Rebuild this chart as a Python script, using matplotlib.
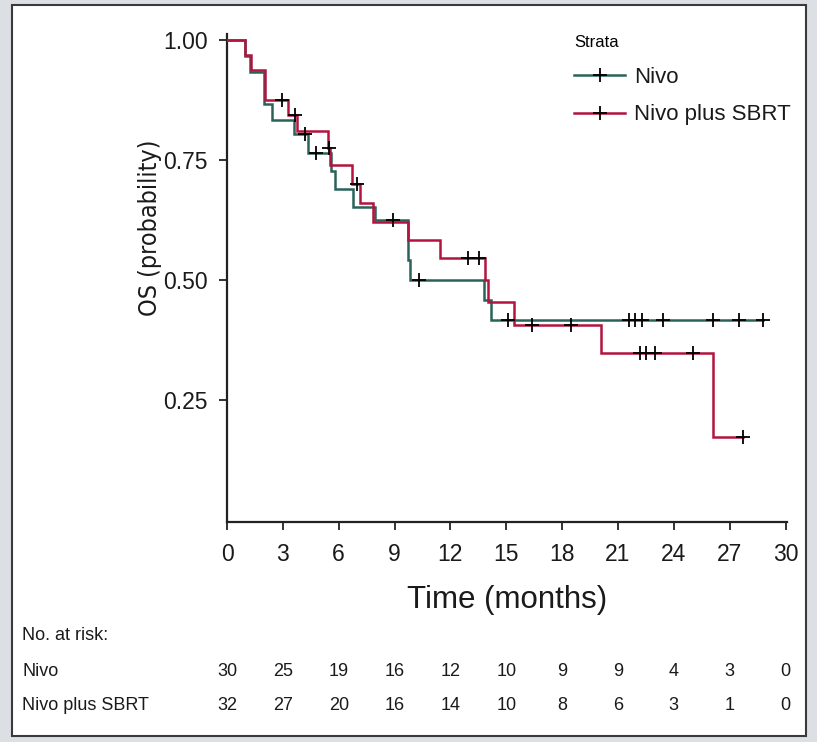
import numpy as np
import matplotlib
matplotlib.use("Agg")
import matplotlib.pyplot as plt
from matplotlib.lines import Line2D
from matplotlib.patches import Rectangle
from matplotlib.transforms import blended_transform_factory

plt.rcParams['font.family'] = ['Liberation Sans', 'DejaVu Sans']

# ---------------- data ----------------
groups = ["Nivo", "Nivo plus SBRT"]

nivo_times = [0, 0.97, 1.25, 2.0, 2.4, 3.6, 4.35, 5.6, 5.8, 6.75, 7.96, 9.7, 9.85, 13.8, 14.2]
nivo_surv = [1.0, 0.967, 0.933, 0.867, 0.833, 0.805, 0.764, 0.727, 0.690, 0.652, 0.625, 0.542, 0.500, 0.458, 0.417]
nivo_end = 28.8
nivo_censor = [4.2, 4.8, 8.9, 10.3, 15.1, 21.6, 21.9, 22.3, 23.4, 26.1, 27.5, 28.8]

sbrt_times = [0, 0.97, 1.3, 2.04, 3.3, 3.75, 5.45, 5.55, 6.7, 7.15, 7.85, 9.7, 11.45, 13.87, 14.0, 15.4, 20.1, 26.1]
sbrt_surv = [1.0, 0.969, 0.9375, 0.875, 0.844, 0.81, 0.776, 0.74, 0.70, 0.66, 0.62, 0.583, 0.545, 0.50, 0.454, 0.406, 0.348, 0.174]
sbrt_end = 27.7
sbrt_censor = [2.96, 3.66, 5.5, 7.0, 12.96, 13.55, 16.4, 18.5, 22.2, 22.5, 23.0, 25.05, 27.7]

risk_times = [0, 3, 6, 9, 12, 15, 18, 21, 24, 27, 30]
risk_nivo = [30, 25, 19, 16, 12, 10, 9, 9, 4, 3, 0]
risk_sbrt = [32, 27, 20, 16, 14, 10, 8, 6, 3, 1, 0]

y_ticks = [0.25, 0.50, 0.75, 1.00]
y_ticklabels = ["0.25", "0.50", "0.75", "1.00"]

colors = ["#2a625a", "#b3143f"]

# ---------------- figure ----------------
W, H = 817, 742
fig = plt.figure(figsize=(W / 100, H / 100), dpi=100)
fig.patch.set_facecolor("#dcdfe3")

# white panel with border
panel = Rectangle((12 / W, 1 - 736 / H), (806 - 12) / W, (736 - 5) / H,
                  transform=fig.transFigure, facecolor="white",
                  edgecolor="#3a3a3a", linewidth=1.5, zorder=-10)
fig.add_artist(panel)

def px_axes(x0, y0, x1, y1):
    return [x0 / W, 1 - y1 / H, (x1 - x0) / W, (y1 - y0) / H]

ax = fig.add_axes(px_axes(227, 34.2, 787.4, 522))
ax.set_zorder(5)
ax.set_facecolor("none")
ax.set_xlim(0, 30.1)
ax.set_ylim(-0.004, 1.012)


def draw_km(times, surv, end, censor, color, label):
    t = list(times) + [end]
    s = list(surv) + [surv[-1]]
    ax.step(t, s, where="post", color=color, lw=1.8, zorder=3, solid_joinstyle="miter")
    tt = np.asarray(times)
    cs = [surv[np.searchsorted(tt, c, side="right") - 1] for c in censor]
    ax.plot(censor, cs, linestyle="none", marker="+", ms=10, mew=1.3,
            color="black", zorder=4)


draw_km(nivo_times, nivo_surv, nivo_end, nivo_censor, colors[0], groups[0])
draw_km(sbrt_times, sbrt_surv, sbrt_end, sbrt_censor, colors[1], groups[1])

for s in ["top", "right"]:
    ax.spines[s].set_visible(False)
for s in ["left", "bottom"]:
    ax.spines[s].set_linewidth(1.6)
    ax.spines[s].set_color("#222222")

ax.set_xticks(risk_times)
ax.set_xticklabels([str(v) for v in risk_times])
ax.set_yticks(y_ticks)
ax.set_yticklabels(y_ticklabels)
ax.tick_params(axis="both", direction="out", length=6, width=1.3,
               color="#222222", labelsize=16.5, labelcolor="#1a1a1a")
ax.tick_params(axis="y", pad=8)
ax.tick_params(axis="x", pad=9)

ax.set_xlabel("Time (months)", fontsize=22.5, color="#1a1a1a", va="center")
ax.xaxis.set_label_coords(0.5, -(600 - 522) / 487.8)
ax.set_ylabel("OS (probability)", fontsize=18, color="#1a1a1a", va="center",
              family="DejaVu Sans", fontstretch="condensed")
ax.yaxis.set_label_coords(-(227 - 150) / 560.4, (522 - 228) / 487.8)

# legend
handles = [Line2D([], [], color=c, lw=1.8, marker="+", ms=10, mew=1.3,
                  markeredgecolor="black") for c in colors]
leg = ax.legend(handles, groups, title="Strata", loc="upper left",
                bbox_to_anchor=(554 / W, 1 - 15 / H), bbox_transform=fig.transFigure,
                frameon=False, fontsize=16, title_fontsize=12,
                handlelength=2.3, handletextpad=0.4, labelspacing=0.75,
                alignment="left")
for txt in leg.get_texts():
    txt.set_color("#1a1a1a")

# risk table
trans = blended_transform_factory(ax.transData, fig.transFigure)
fs_risk = 13
fig.text(22 / W, 1 - 636 / H, "No. at risk:", fontsize=fs_risk, va="center", ha="left", color="#1a1a1a")
for row_y, name, vals in [(671, groups[0], risk_nivo), (706, groups[1], risk_sbrt)]:
    fig.text(22 / W, 1 - row_y / H, name, fontsize=fs_risk, va="center", ha="left", color="#1a1a1a")
    for t, v in zip(risk_times, vals):
        ax.text(t, 1 - row_y / H, str(v), transform=trans, fontsize=fs_risk,
                va="center", ha="center", color="#1a1a1a", clip_on=False)

fig.savefig("out.png", dpi=100, facecolor=fig.get_facecolor())
